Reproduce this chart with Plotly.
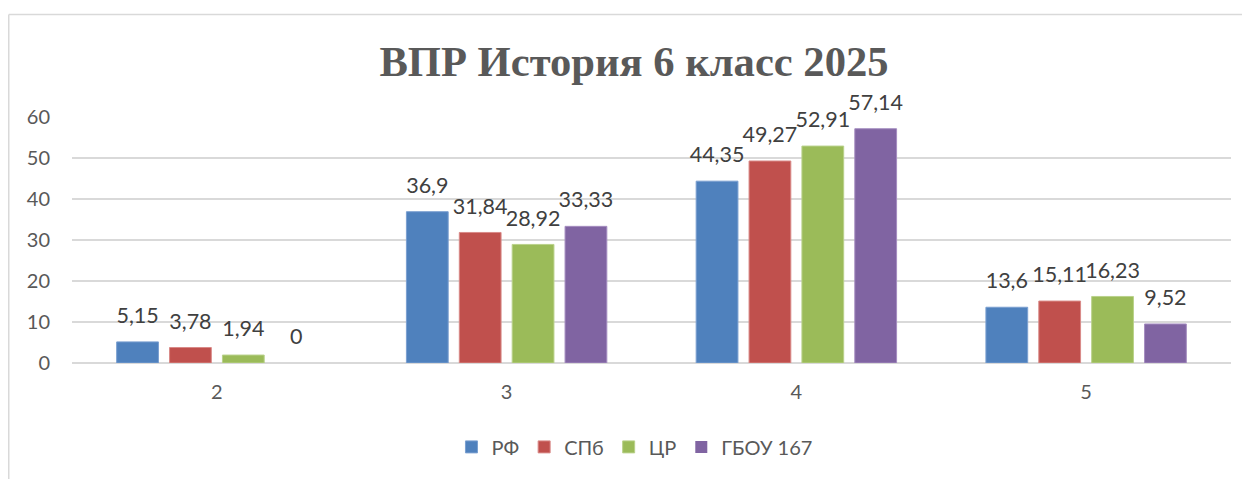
import plotly.graph_objects as go

categories = ["2", "3", "4", "5"]
series_names = ["РФ", "СПб", "ЦР", "ГБОУ 167"]
rf = [5.15, 36.9, 44.35, 13.6]
spb = [3.78, 31.84, 49.27, 15.11]
cr = [1.94, 28.92, 52.91, 16.23]
gbou = [0, 33.33, 57.14, 9.52]
colors = ["#4F81BD", "#C0504D", "#9BBB59", "#8064A2"]
edge_colors = ["#7A9FD0", "#D98A88", "#B9D18A", "#A58DC0"]
y_ticks = [0, 10, 20, 30, 40, 50, 60]
title_text = "ВПР История 6 класс 2025"

FONT = "Lato, 'Open Sans', sans-serif"

def fmt(v):
    s = ("%.2f" % v).rstrip("0").rstrip(".")
    return s.replace(".", ",")

W, H = 1243, 471          # page body has an 8px margin
L, R, T, B = 64, 20, 109, 116

fig = go.Figure()
for i, (name, vals, c, ec) in enumerate(zip(series_names, [rf, spb, cr, gbou], colors, edge_colors)):
    fig.add_trace(go.Bar(
        x=categories, y=vals, name=name, offsetgroup=str(i),
        marker=dict(color=c, line=dict(color=ec, width=[0 if v == 0 else 1 for v in vals])),
        hoverinfo="skip",
    ))
for i, (name, vals) in enumerate(zip(series_names, [rf, spb, cr, gbou])):
    fig.add_trace(go.Scatter(
        x=categories, y=vals, name=name, offsetgroup=str(i), showlegend=False,
        mode="markers+text", marker=dict(size=20, color="rgba(0,0,0,0)"),
        text=[fmt(v) for v in vals], textposition="top center",
        textfont=dict(family=FONT, size=21.5, color="#404040"),
        cliponaxis=False, hoverinfo="skip",
    ))

fig.update_layout(
    width=W, height=H,
    barmode="group", bargap=0.27, bargroupgap=0.21,
    scattermode="group", scattergap=0.27,
    plot_bgcolor="white", paper_bgcolor="white",
    margin=dict(l=L, r=R, t=T, b=B, autoexpand=False),
    title=dict(text="<b>" + title_text + "</b>", x=0.5036, xanchor="center", y=0.888, yanchor="middle",
               font=dict(family="Liberation Serif, Times New Roman, serif", size=42.6, color="#595959")),
    xaxis=dict(type="category", showgrid=False, showline=False, ticks="", automargin=False,
               ticklabelstandoff=15,
               tickfont=dict(family=FONT, size=20, color="#595959")),
    yaxis=dict(range=[0, 60], tickvals=y_ticks, showgrid=True, gridcolor="#D9D9D9", gridwidth=1.5,
               zeroline=True, zerolinecolor="#D9D9D9", zerolinewidth=1.5, showline=False, ticks="",
               automargin=False, ticklabelstandoff=21,
               tickfont=dict(family=FONT, size=20, color="#595959")),
    legend=dict(orientation="h", x=0.4853, xanchor="center", y=-0.341, yanchor="middle",
                font=dict(family=FONT, size=20, color="#595959"),
                itemwidth=30, traceorder="normal"),
    showlegend=True,
)

plot_w = W - L - R
plot_h = H - T - B
def px_x(p):
    return (p - L) / plot_w
def px_y(p):
    return (H - B - p) / plot_h
fig.add_shape(type="line", xref="paper", yref="paper",
              x0=px_x(0.75), x1=px_x(0.75), y0=px_y(6.5), y1=px_y(480),
              line=dict(color="#D9D9D9", width=1.5))
fig.add_shape(type="line", xref="paper", yref="paper",
              x0=px_x(0.75), x1=px_x(1234), y0=px_y(6.5), y1=px_y(6.5),
              line=dict(color="#D9D9D9", width=1.5))

fig.write_html("out.html")
